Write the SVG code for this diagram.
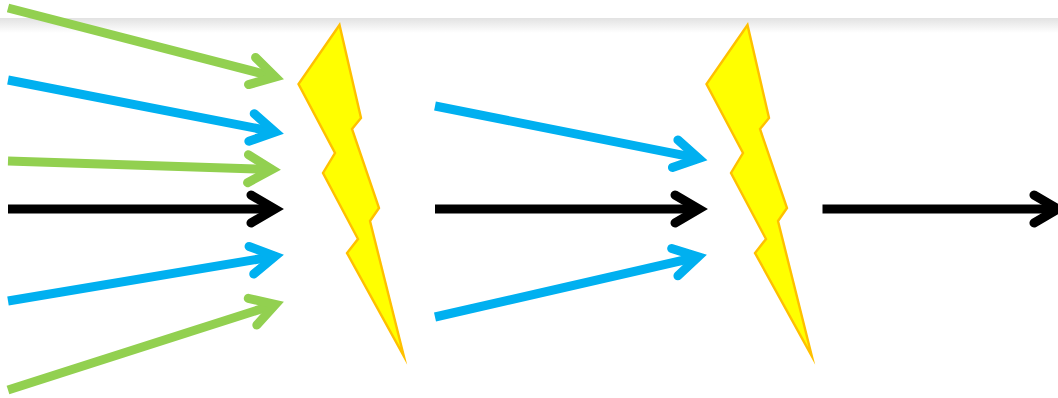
<svg xmlns="http://www.w3.org/2000/svg" width="1058" height="398" viewBox="0 0 1058 398">
  <style>
    .line { fill: none; stroke-width: 9; stroke-linecap: butt; }
    .head { fill: none; stroke-width: 9; stroke-linecap: round; stroke-linejoin: miter; stroke-miterlimit: 10; }
    .green { stroke: #92D050; }
    .blue { stroke: #00B0F0; }
    .black { stroke: #000000; }
    .bolt { fill: #FFFF00; stroke: #FFC000; stroke-width: 2.4; stroke-linejoin: miter; stroke-miterlimit: 20; }
  </style>
  <defs>
    <linearGradient id="shade" x1="0" y1="0" x2="0" y2="1">
      <stop offset="0" stop-color="#E2E2E2"/>
      <stop offset="1" stop-color="#FFFFFF"/>
    </linearGradient>
    <marker id="hg" markerUnits="userSpaceOnUse" viewBox="-40 -25 60 50" refX="0" refY="0" markerWidth="60" markerHeight="50" orient="auto" overflow="visible"><path class="head green" d="M-24,-14 L0,0 L-24,14"/></marker>
    <marker id="hb" markerUnits="userSpaceOnUse" viewBox="-40 -25 60 50" refX="0" refY="0" markerWidth="60" markerHeight="50" orient="auto" overflow="visible"><path class="head blue" d="M-24,-14 L0,0 L-24,14"/></marker>
    <marker id="hk" markerUnits="userSpaceOnUse" viewBox="-40 -25 60 50" refX="0" refY="0" markerWidth="60" markerHeight="50" orient="auto" overflow="visible"><path class="head black" d="M-24,-14 L0,0 L-24,14"/></marker>
  </defs>
  <rect width="1058" height="398" fill="#FFFFFF"/>
  <rect id="band" x="0" y="18" width="1058" height="15" fill="url(#shade)"/>
  <g id="bolt-1"><polygon class="bolt" points="339.5,25 298.5,84 335,153 323,173 358,239 347,253 403.8,356 370,221 379,208 352,129 361,118"/></g>
  <g id="bolt-2"><polygon class="bolt" points="747.5,25 706.5,84 743,153 731,173 766,239 755,253 811.8,356 778,221 787,208 760,129 769,118"/></g>
  <g id="connectors">
    <line class="line green" x1="8" y1="8" x2="275.3" y2="77" marker-end="url(#hg)"/>
    <line class="line blue" x1="8" y1="80" x2="275.1" y2="132" marker-end="url(#hb)"/>
    <line class="line green" x1="8" y1="161" x2="272" y2="169.5" marker-end="url(#hg)"/>
    <line class="line black" x1="8" y1="209" x2="275" y2="209" marker-end="url(#hk)"/>
    <line class="line blue" x1="8" y1="301" x2="275.1" y2="256.3" marker-end="url(#hb)"/>
    <line class="line green" x1="8" y1="390" x2="275.4" y2="304.4" marker-end="url(#hg)"/>
    <line class="line blue" x1="435" y1="106" x2="698.7" y2="158.4" marker-end="url(#hb)"/>
    <line class="line black" x1="435" y1="209" x2="699" y2="209" marker-end="url(#hk)"/>
    <line class="line blue" x1="435" y1="317" x2="698.2" y2="256.8" marker-end="url(#hb)"/>
    <line class="line black" x1="822.5" y1="209" x2="1058" y2="209" marker-end="url(#hk)"/>
  </g>
</svg>
